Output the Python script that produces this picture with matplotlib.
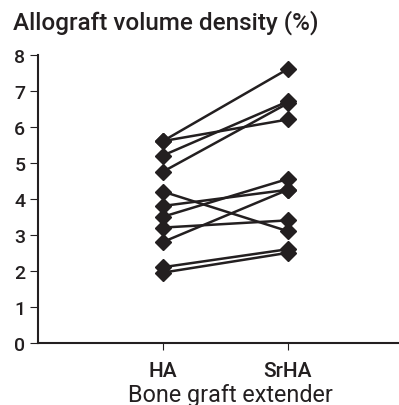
import matplotlib
matplotlib.use("Agg")
import matplotlib.pyplot as plt

plt.rcParams['font.family'] = ['Roboto', 'DejaVu Sans']
plt.rcParams['font.weight'] = 'medium'

groups = ['HA', 'SrHA']
ha_vals = [5.6, 5.6, 5.2, 4.75, 4.2, 3.8, 3.5, 3.2, 2.8, 2.1, 1.95]
srha_vals = [7.6, 6.2, 6.7, 6.65, 3.1, 4.25, 4.55, 3.4, 4.25, 2.6, 2.5]
y_ticks = [0, 1, 2, 3, 4, 5, 6, 7, 8]

ink = '#231f20'

fig = plt.figure(figsize=(3.99, 4.06), dpi=100)
ax = fig.add_axes([0.095, 0.153, 0.902, 0.71])

for a, b in zip(ha_vals, srha_vals):
    ax.plot([1, 2], [a, b], color=ink, linewidth=1.8, marker='D',
            markersize=8, markerfacecolor=ink, markeredgecolor=ink)

ax.set_xlim(0, 2.88)
ax.set_ylim(0, 8)
ax.set_xticks([1, 2])
ax.set_xticklabels(groups, fontsize=15, color=ink)
ax.set_yticks(y_ticks)
ax.set_yticklabels([str(v) for v in y_ticks], fontsize=14, color=ink)
ax.tick_params(axis='y', length=6, width=0.8, pad=3, color=ink)
ax.tick_params(axis='x', length=5, width=0.8, pad=8, color=ink)

for s in ['top', 'right']:
    ax.spines[s].set_visible(False)
for s in ['left', 'bottom']:
    ax.spines[s].set_linewidth(1.5)
    ax.spines[s].set_color(ink)

ax.set_xlabel('Bone graft extender', fontsize=16.8, color=ink, va='baseline')
ax.xaxis.set_label_coords(0.535, -0.203)
fig.text(0.033, 0.945, 'Allograft volume density (%)', fontsize=17.5,
         color=ink, ha='left', va='center')

fig.savefig('out.png', dpi=100)
